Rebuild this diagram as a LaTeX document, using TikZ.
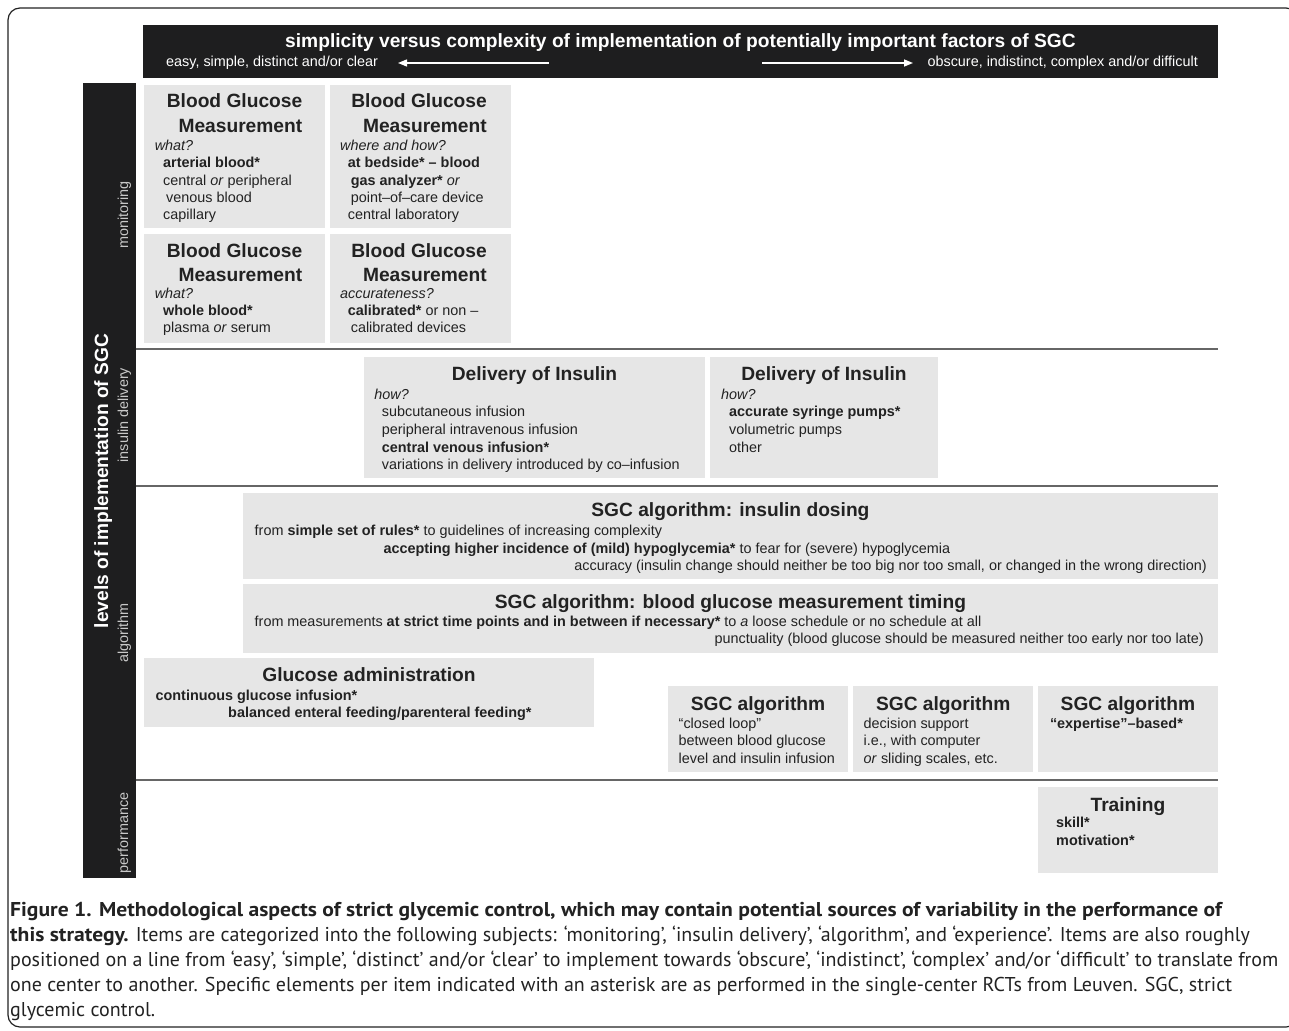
\documentclass[tikz,border=0pt]{standalone}
\usepackage{fontspec}
\setmainfont{Liberation Sans}
\newfontfamily\capfont{PT Sans}[BoldFeatures={FakeStretch=1.08}]
\usetikzlibrary{arrows.meta}

\definecolor{barblack}{HTML}{1E1E1F}
\definecolor{boxgray}{HTML}{E6E6E6}
\definecolor{inkgray}{HTML}{222222}
\definecolor{rulegray}{HTML}{666666}
\definecolor{labelgray}{HTML}{C8C8C8}

\tikzset{
  boxline/.style={anchor=base west, inner sep=0pt, text=inkgray, font=\fontsize{14.4}{17}\selectfont},
  boxtitle/.style={anchor=base, inner sep=0pt, text=inkgray, font=\fontsize{19.2}{24}\selectfont\bfseries},
  barline/.style={inner sep=0pt, text=white, font=\fontsize{14.4}{17}\selectfont},
  levellabel/.style={rotate=90, anchor=base, inner sep=0pt, text=labelgray, font=\fontsize{14.4}{17}\selectfont},
  seprule/.style={rulegray, line width=2.4pt},
  whitearrow/.style={white, line width=1.4pt, -{Triangle[length=9pt,width=7pt]}},
  capline/.style={anchor=base west, inner sep=0pt, text=inkgray, font=\capfont\fontsize{20}{25}\selectfont}
}

\begin{document}
\begin{tikzpicture}[x=1pt, y=-1pt]
    \useasboundingbox (0,0) rectangle (1289,1030);
    % Frame
    \draw[inkgray, line width=1.2pt, rounded corners=12pt] (8,8) rectangle (1298,1027);

    % Top bar
    \fill[barblack] (143,25) rectangle (1218,78);
    \node[boxtitle, text=white] (toptitle) at (680.5,48) {simplicity versus complexity of implementation of potentially important factors of SGC};
    \node[barline, anchor=base west] (easy) at (166,66.5) {easy, simple, distinct and/or clear};
    \node[barline, anchor=base east] (hard) at (1198,66.5) {obscure, indistinct, complex and/or difficult};
    \coordinate (easytail) at (549,63);
    \coordinate (easytip) at (398,63);
    \coordinate (hardtail) at (762,63);
    \coordinate (hardtip) at (913,63);
    \draw[whitearrow] (easytail) -- (easytip);
    \draw[whitearrow] (hardtail) -- (hardtip);

    % Left bar
    \fill[barblack] (83,83) rectangle (135.5,878);
    \node[boxtitle, rotate=90, text=white] (levels) at (108,481) {levels of implementation of SGC};
    \node[levellabel] (monitoring) at (128,215) {monitoring};
    \node[levellabel] (delivery) at (128,415) {insulin delivery};
    \node[levellabel] (algorithm) at (128,633) {algorithm};
    \node[levellabel] (performance) at (128,833) {performance};

    % Separators
    \draw[seprule] (135.5,349) -- (1218,349);
    \draw[seprule] (135.5,486) -- (1218,486);
    \draw[seprule] (135.5,780) -- (1218,780);

    % Monitoring boxes
    \fill[boxgray] (144,85) rectangle (324.5,228);
    \fill[boxgray] (329.5,85) rectangle (510.5,228);
    \fill[boxgray] (144,234) rectangle (324.5,343);
    \fill[boxgray] (329.5,234) rectangle (510.5,343);

    \node[boxtitle, anchor=base east] (bgaT1) at (302.5,108) {Blood Glucose};
    \node[boxtitle, anchor=base east] (bgaT2) at (302.5,132) {Measurement};
    \node[boxline] (bga1) at (154.6,150.5) {\textit{what?}};
    \node[boxline] (bga2) at (163,167.8) {\textbf{arterial blood*}};
    \node[boxline] (bga3) at (163,185) {central \textit{or} peripheral};
    \node[boxline] (bga4) at (166,202.3) {venous blood};
    \node[boxline] (bga5) at (163,219.5) {capillary};

    \node[boxtitle, anchor=base east] (bgbT1) at (487,108) {Blood Glucose};
    \node[boxtitle, anchor=base east] (bgbT2) at (487,132) {Measurement};
    \node[boxline] (bgb1) at (340,150.5) {\textit{where and how?}};
    \node[boxline] (bgb2) at (347.7,167.8) {\textbf{at bedside* – blood}};
    \node[boxline] (bgb3) at (350.6,185) {\textbf{gas analyzer*} \textit{or}};
    \node[boxline] (bgb4) at (350.6,202.3) {point–of–care device};
    \node[boxline] (bgb5) at (347.7,219.5) {central laboratory};

    \node[boxtitle, anchor=base east] (bgcT1) at (302.5,257.3) {Blood Glucose};
    \node[boxtitle, anchor=base east] (bgcT2) at (302.5,281) {Measurement};
    \node[boxline] (bgc1) at (154.6,298.3) {\textit{what?}};
    \node[boxline] (bgc2) at (163,315.7) {\textbf{whole blood*}};
    \node[boxline] (bgc3) at (163,332.7) {plasma \textit{or} serum};

    \node[boxtitle, anchor=base east] (bgdT1) at (487,257.3) {Blood Glucose};
    \node[boxtitle, anchor=base east] (bgdT2) at (487,281) {Measurement};
    \node[boxline] (bgd1) at (340,298.3) {\textit{accurateness?}};
    \node[boxline] (bgd2) at (347.7,315.7) {\textbf{calibrated*} or non –};
    \node[boxline] (bgd3) at (350.6,332.7) {calibrated devices};

    % Insulin delivery boxes
    \fill[boxgray] (363.5,357.3) rectangle (705.4,478.3);
    \fill[boxgray] (710.4,357.3) rectangle (937.6,478.3);

    \node[boxtitle] (diaT) at (534.5,380.7) {Delivery of Insulin};
    \node[boxline] (dia1) at (374.2,399.3) {\textit{how?}};
    \node[boxline] (dia2) at (381.7,416.7) {subcutaneous infusion};
    \node[boxline] (dia3) at (381.7,434.3) {peripheral intravenous infusion};
    \node[boxline] (dia4) at (381.7,452) {\textbf{central venous infusion*}};
    \node[boxline] (dia5) at (381.7,469.7) {variations in delivery introduced by co–infusion};

    \node[boxtitle] (dibT) at (824,380.7) {Delivery of Insulin};
    \node[boxline] (dib1) at (721,399.3) {\textit{how?}};
    \node[boxline] (dib2) at (729,416.7) {\textbf{accurate syringe pumps*}};
    \node[boxline] (dib3) at (729,434.3) {volumetric pumps};
    \node[boxline] (dib4) at (729,452) {other};

    % Algorithm boxes
    \fill[boxgray] (243.3,493.3) rectangle (1217.5,579.3);
    \node[boxtitle] (dosT) at (730.4,516.7) {SGC algorithm: insulin dosing};
    \node[boxline] (dos1) at (254.5,535.7) {from \textbf{simple set of rules*} to guidelines of increasing complexity};
    \node[boxline] (dos2) at (383.3,553.3) {\textbf{accepting higher incidence of (mild) hypoglycemia*} to fear for (severe) hypoglycemia};
    \node[boxline, anchor=base east] (dos3) at (1207,570) {accuracy (insulin change should neither be too big nor too small, or changed in the wrong direction)};

    \fill[boxgray] (243.3,584.3) rectangle (1217.5,653.3);
    \node[boxtitle] (timT) at (730.4,608.3) {SGC algorithm: blood glucose measurement timing};
    \node[boxline] (tim1) at (254.5,626.7) {from measurements \textbf{at strict time points and in between if necessary*} to \textit{a} loose schedule or no schedule at all};
    \node[boxline, anchor=base east] (tim2) at (1204,643.3) {punctuality (blood glucose should be measured neither too early nor too late)};

    \fill[boxgray] (143.8,658.3) rectangle (594,727.3);
    \node[boxtitle] (gluT) at (369,681.7) {Glucose administration};
    \node[boxline] (glu1) at (155.4,700) {\textbf{continuous glucose infusion*}};
    \node[boxline] (glu2) at (228,717.7) {\textbf{balanced enteral feeding/parenteral feeding*}};

    \fill[boxgray] (667.7,686) rectangle (848.2,771.7);
    \fill[boxgray] (853.2,686) rectangle (1033.2,771.7);
    \fill[boxgray] (1038.2,686) rectangle (1217.5,771.7);

    \node[boxtitle] (cloT) at (758,710) {SGC algorithm};
    \node[boxline] (clo1) at (678.5,728.3) {“closed loop”};
    \node[boxline] (clo2) at (678.5,745.7) {between blood glucose};
    \node[boxline] (clo3) at (678.5,763.3) {level and insulin infusion};

    \node[boxtitle] (decT) at (943.2,710) {SGC algorithm};
    \node[boxline] (dec1) at (863.5,728.3) {decision support};
    \node[boxline] (dec2) at (863.5,745.7) {i.e., with computer};
    \node[boxline] (dec3) at (863.5,763.3) {\textit{or} sliding scales, etc.};

    \node[boxtitle] (expT) at (1127.9,710) {SGC algorithm};
    \node[boxline] (exp1) at (1049.8,728.3) {\textbf{“expertise”–based*}};

    % Performance box
    \fill[boxgray] (1038.2,786.7) rectangle (1217.5,872.7);
    \node[boxtitle] (traT) at (1127.9,811.7) {Training};
    \node[boxline] (tra1) at (1056,827.7) {\textbf{skill*}};
    \node[boxline] (tra2) at (1056,845) {\textbf{motivation*}};

    % Caption
    \node[capline] (cap1) at (10,916) {\textbf{Figure 1. Methodological aspects of strict glycemic control, which may contain potential sources of variability in the performance of}};
    \node[capline] (cap2) at (10,941) {\textbf{this strategy.} Items are categorized into the following subjects: ‘monitoring’, ‘insulin delivery’, ‘algorithm’, and ‘experience’. Items are also roughly};
    \node[capline] (cap3) at (10,966) {positioned on a line from ‘easy’, ‘simple’, ‘distinct’ and/or ‘clear’ to implement towards ‘obscure’, ‘indistinct’, ‘complex’ and/or ‘difficult’ to translate from};
    \node[capline] (cap4) at (10,991) {one center to another. Specific elements per item indicated with an asterisk are as performed in the single-center RCTs from Leuven. SGC, strict};
    \node[capline] (cap5) at (10,1016) {glycemic control.};
\end{tikzpicture}
\end{document}
